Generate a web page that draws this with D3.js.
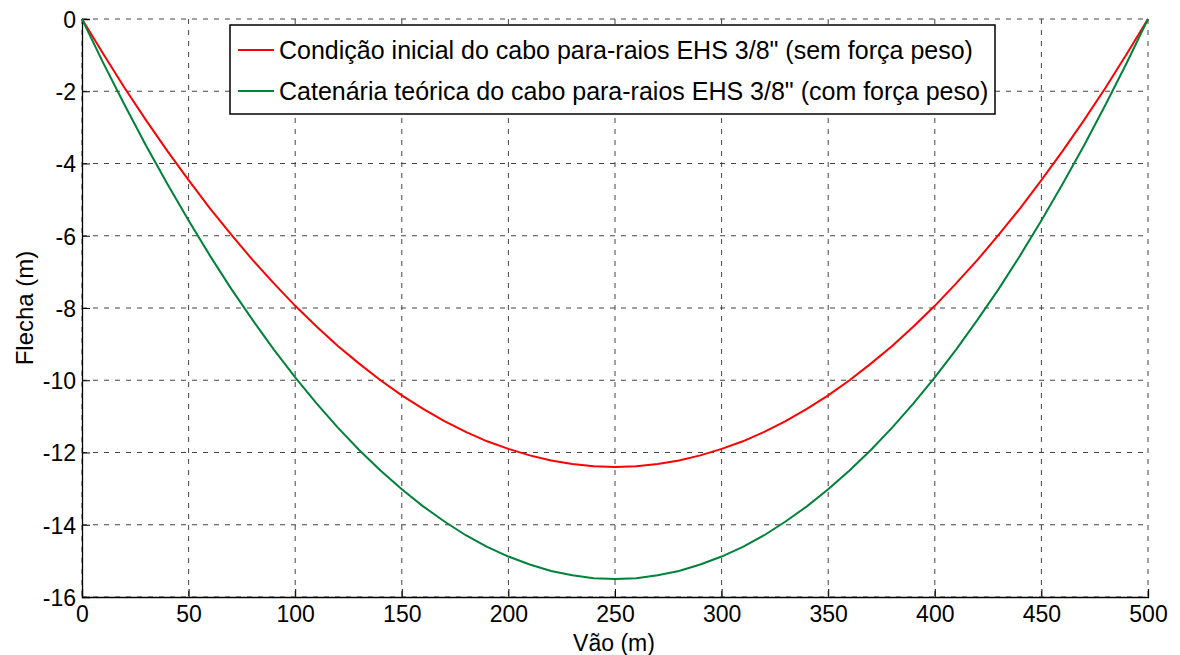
<!DOCTYPE html>
<html>
<head>
<meta charset="utf-8">
<script src="https://cdn.jsdelivr.net/npm/d3@7"></script>
<style>
  body { margin: 0; background: #fff; }
  text { font-family: "Liberation Sans", Arial, sans-serif; fill: #000; }
</style>
</head>
<body>
<div id="chart"></div>
<script>
// span positions (m)
var vao = d3.range(0, 501, 10);

// sag, every 10 m
var flechaInicial = [0, -0.97, -1.91, -2.80, -3.65, -4.46, -5.24, -5.97, -6.67, -7.32,
  -7.94, -8.51, -9.05, -9.54, -10.00, -10.42, -10.79, -11.13, -11.43, -11.69,
  -11.90, -12.08, -12.22, -12.32, -12.38, -12.40, -12.38, -12.32, -12.22, -12.08,
  -11.90, -11.69, -11.43, -11.13, -10.79, -10.42, -10.00, -9.54, -9.05, -8.51,
  -7.94, -7.32, -6.67, -5.97, -5.24, -4.46, -3.65, -2.80, -1.91, -0.97, 0];

var flechaCatenaria = [0, -1.22, -2.38, -3.50, -4.56, -5.58, -6.55, -7.47, -8.33, -9.15,
  -9.92, -10.64, -11.31, -11.93, -12.50, -13.02, -13.49, -13.91, -14.29, -14.61,
  -14.88, -15.10, -15.28, -15.40, -15.48, -15.50, -15.48, -15.40, -15.28, -15.10,
  -14.88, -14.61, -14.29, -13.91, -13.49, -13.02, -12.50, -11.93, -11.31, -10.64,
  -9.92, -9.15, -8.33, -7.47, -6.55, -5.58, -4.56, -3.50, -2.38, -1.22, 0];

var xTicks = [0, 50, 100, 150, 200, 250, 300, 350, 400, 450, 500];
var yTicks = [0, -2, -4, -6, -8, -10, -12, -14, -16];

var seriesNames = [
  'Condição inicial do cabo para-raios EHS 3/8" (sem força peso)',
  'Catenária teórica do cabo para-raios EHS 3/8" (com força peso)'
];
var seriesColors = ["#ff0000", "#00823b"];

var svgWidth = 1180;
var svgHeight = 655;
var margin = { top: 19, right: 32, bottom: 58, left: 82 };
var chartWidth = svgWidth - margin.left - margin.right;
var chartHeight = svgHeight - margin.top - margin.bottom;

var svg = d3.select("#chart")
  .append("svg")
  .attr("width", svgWidth)
  .attr("height", svgHeight);

var chartGroup = svg.append("g")
  .attr("transform", `translate(${margin.left}, ${margin.top})`);

var x = d3.scaleLinear().domain([0, 500]).range([0, chartWidth]);
var y = d3.scaleLinear().domain([-16, 0]).range([chartHeight, 0]);

// dashed grid
chartGroup.append("g")
  .selectAll("line.vg")
  .data(xTicks)
  .enter()
  .append("line")
  .attr("x1", d => x(d)).attr("x2", d => x(d))
  .attr("y1", 0).attr("y2", chartHeight)
  .attr("stroke", "#444").attr("stroke-width", 1)
  .attr("stroke-dasharray", "5,6");

chartGroup.append("g")
  .selectAll("line.hg")
  .data(yTicks)
  .enter()
  .append("line")
  .attr("x1", 0).attr("x2", chartWidth)
  .attr("y1", d => y(d)).attr("y2", d => y(d))
  .attr("stroke", "#444").attr("stroke-width", 1)
  .attr("stroke-dasharray", "5,6");

// axes
var xAxis = d3.axisBottom(x).tickValues(xTicks).tickSize(-8).tickPadding(9)
  .tickFormat(d => String(d));
var yAxis = d3.axisLeft(y).tickValues(yTicks).tickSize(-8).tickPadding(6)
  .tickFormat(d => String(d));

var gx = chartGroup.append("g")
  .attr("transform", `translate(0, ${chartHeight})`)
  .call(xAxis);
var gy = chartGroup.append("g").call(yAxis);

[gx, gy].forEach(g => {
  g.select(".domain").attr("stroke", "#000").attr("stroke-width", 1.3);
  g.selectAll(".tick line").attr("stroke", "#000");
  g.selectAll(".tick text")
    .style("font-family", '"Liberation Sans", Arial, sans-serif')
    .style("font-size", "23px")
    .attr("fill", "#000");
});
gy.selectAll(".tick text").attr("dy", "0.36em");

// lines
var line = d3.line()
  .x((d, i) => x(vao[i]))
  .y(d => y(d));

[flechaInicial, flechaCatenaria].forEach((serie, i) => {
  chartGroup.append("path")
    .datum(serie)
    .attr("fill", "none")
    .attr("stroke", seriesColors[i])
    .attr("stroke-width", 2)
    .attr("d", line);
});

// axis labels
svg.append("text")
  .attr("x", 614)
  .attr("y", 651)
  .attr("text-anchor", "middle")
  .style("font-size", "23px")
  .text("Vão (m)");

svg.append("text")
  .attr("transform", `translate(33, ${margin.top + chartHeight / 2}) rotate(-90)`)
  .attr("text-anchor", "middle")
  .style("font-size", "24px")
  .text("Flecha (m)");

// legend
var legend = svg.append("g").attr("transform", "translate(230, 25)");
legend.append("rect")
  .attr("width", 765).attr("height", 89)
  .attr("fill", "#fff")
  .attr("stroke", "#000").attr("stroke-width", 1.5);

seriesNames.forEach((name, i) => {
  var yy = 25 + i * 41;
  legend.append("line")
    .attr("x1", 8).attr("x2", 44)
    .attr("y1", yy).attr("y2", yy)
    .attr("stroke", seriesColors[i]).attr("stroke-width", 2);
  legend.append("text")
    .attr("x", 49).attr("y", yy)
    .attr("dy", "0.36em")
    .style("font-size", "25px")
    .text(name);
});
</script>
</body>
</html>
